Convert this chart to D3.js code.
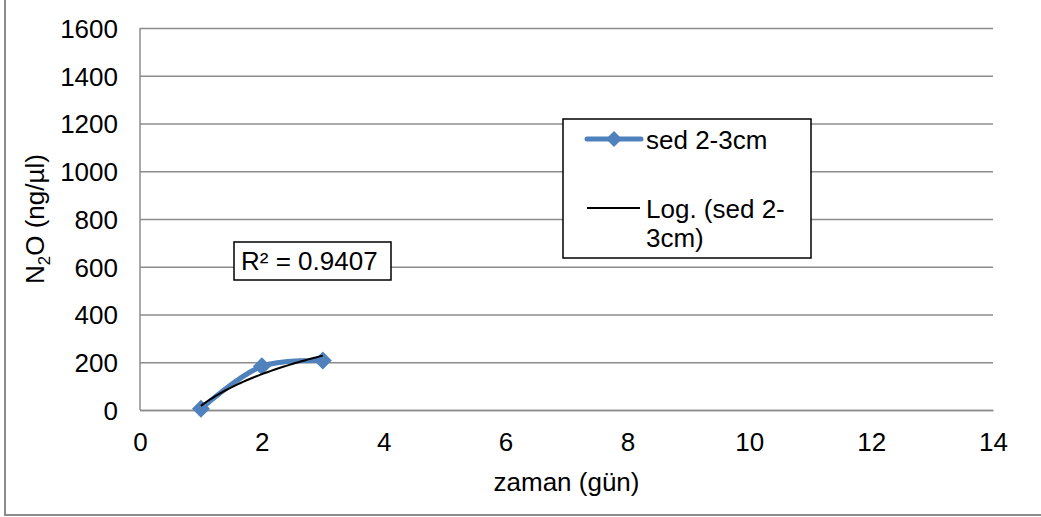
<!DOCTYPE html>
<html>
<head>
<meta charset="utf-8">
<script src="https://cdn.jsdelivr.net/npm/d3@7"></script>
<style>
  body { margin: 0; background: #fff; }
  svg { font-family: "Liberation Sans", Arial, sans-serif; }
</style>
</head>
<body>
<svg id="chart" width="1041" height="517"></svg>
<script>
// data
const days = [1, 2, 3];
const n2o = [5, 183, 207];
const seriesName = "sed 2-3cm";
const trendName = ["Log. (sed 2-", "3cm)"];
const rSquaredLabel = "R² = 0.9407";
const xTicks = [0, 2, 4, 6, 8, 10, 12, 14];
const yTicks = [0, 200, 400, 600, 800, 1000, 1200, 1400, 1600];

const svg = d3.select("#chart");
const fontSize = 26;
const blue = "#4f81bd";
const grid = "#8c8c8c";

// outer chart border
svg.append("rect")
    .attr("x", 5).attr("y", -5)
    .attr("width", 1045).attr("height", 520)
    .attr("fill", "none")
    .attr("stroke", "#8c8c8c")
    .attr("stroke-width", 2);

const x = d3.scaleLinear().domain([0, 14]).range([140, 993]);
const y = d3.scaleLinear().domain([0, 1600]).range([410, 28]);

// gridlines + y labels
const yAxis = svg.append("g")
    .attr("transform", `translate(${x(0)},0)`)
    .call(d3.axisLeft(y).tickValues(yTicks).tickFormat(d3.format("d"))
        .tickSize(-(x(14) - x(0))).tickPadding(22));
yAxis.select(".domain").remove();
yAxis.selectAll(".tick line").attr("stroke", grid).attr("stroke-width", 1.5);
yAxis.selectAll(".tick text")
    .attr("font-size", fontSize)
    .attr("fill", "#000")
    .attr("font-family", "Liberation Sans, Arial, sans-serif")
    .attr("dy", "0.36em");

// left axis line
svg.append("line")
    .attr("x1", x(0)).attr("x2", x(0))
    .attr("y1", y(1600)).attr("y2", y(0))
    .attr("stroke", grid).attr("stroke-width", 1.5);

// x axis
const xAxis = svg.append("g")
    .attr("transform", `translate(0,${y(0)})`)
    .call(d3.axisBottom(x).tickValues(xTicks).tickSize(0).tickPadding(23));
xAxis.select(".domain").attr("stroke", grid).attr("stroke-width", 1.5);
xAxis.selectAll(".tick text")
    .attr("font-size", fontSize)
    .attr("fill", "#000")
    .attr("font-family", "Liberation Sans, Arial, sans-serif");

// axis titles
svg.append("text")
    .attr("x", (x(0) + x(14)) / 2)
    .attr("y", 491)
    .attr("text-anchor", "middle")
    .attr("font-size", fontSize)
    .text("zaman (gün)");

const yTitle = svg.append("text")
    .attr("transform", `translate(44,${(y(0) + y(1600)) / 2}) rotate(-90)`)
    .attr("text-anchor", "middle")
    .attr("font-size", fontSize);
yTitle.append("tspan").text("N");
yTitle.append("tspan").attr("font-size", fontSize * 0.65).attr("dy", 6).text("2");
yTitle.append("tspan").attr("dy", -6).text("O (ng/µl)");

// logarithmic trendline, least squares on ln(x)
const lx = days.map(Math.log);
const mx = d3.mean(lx), my = d3.mean(n2o);
const slope = d3.sum(lx, (v, i) => (v - mx) * (n2o[i] - my)) / d3.sum(lx, v => (v - mx) ** 2);
const icpt = my - slope * mx;
const trendPts = d3.range(0, 41).map(i => {
    const d = days[0] + (days[days.length - 1] - days[0]) * i / 40;
    return [d, icpt + slope * Math.log(d)];
});

// series line (smoothed)
const pts = days.map((d, i) => [d, n2o[i]]);
svg.append("path")
    .datum(pts)
    .attr("fill", "none")
    .attr("stroke", blue)
    .attr("stroke-width", 5)
    .attr("stroke-linejoin", "round")
    .attr("d", d3.line().x(d => x(d[0])).y(d => y(d[1])).curve(d3.curveCatmullRom.alpha(0.5)));

const diamond = "M0,-9L9,0L0,9L-9,0Z";
svg.selectAll(".marker")
    .data(pts)
    .join("path")
    .attr("class", "marker")
    .attr("transform", d => `translate(${x(d[0])},${y(d[1])})`)
    .attr("d", diamond)
    .attr("fill", blue);

svg.append("path")
    .datum(trendPts)
    .attr("fill", "none")
    .attr("stroke", "#000")
    .attr("stroke-width", 2)
    .attr("d", d3.line().x(d => x(d[0])).y(d => y(d[1])));

// R² box
svg.append("rect")
    .attr("x", 234).attr("y", 242)
    .attr("width", 157).attr("height", 38)
    .attr("fill", "#fff")
    .attr("stroke", "#000")
    .attr("stroke-width", 1.5);
svg.append("text")
    .attr("x", 241).attr("y", 270)
    .attr("font-size", fontSize)
    .text(rSquaredLabel);

// legend
const lg = svg.append("g").attr("transform", "translate(563,119)");
lg.append("rect")
    .attr("width", 248).attr("height", 139)
    .attr("fill", "#fff")
    .attr("stroke", "#000")
    .attr("stroke-width", 1.5);
lg.append("line")
    .attr("x1", 24).attr("x2", 78)
    .attr("y1", 20).attr("y2", 20)
    .attr("stroke", blue).attr("stroke-width", 5).attr("stroke-linecap", "round");
lg.append("path")
    .attr("transform", "translate(51,20)")
    .attr("d", "M0,-8L8,0L0,8L-8,0Z")
    .attr("fill", blue);
lg.append("text")
    .attr("x", 83).attr("y", 30)
    .attr("font-size", fontSize)
    .text(seriesName);
lg.append("line")
    .attr("x1", 24).attr("x2", 77)
    .attr("y1", 89).attr("y2", 89)
    .attr("stroke", "#000").attr("stroke-width", 2);
lg.selectAll(".tl")
    .data(trendName)
    .join("text")
    .attr("class", "tl")
    .attr("x", 83)
    .attr("y", (d, i) => 99 + i * 29)
    .attr("font-size", fontSize)
    .text(d => d);
</script>
</body>
</html>
